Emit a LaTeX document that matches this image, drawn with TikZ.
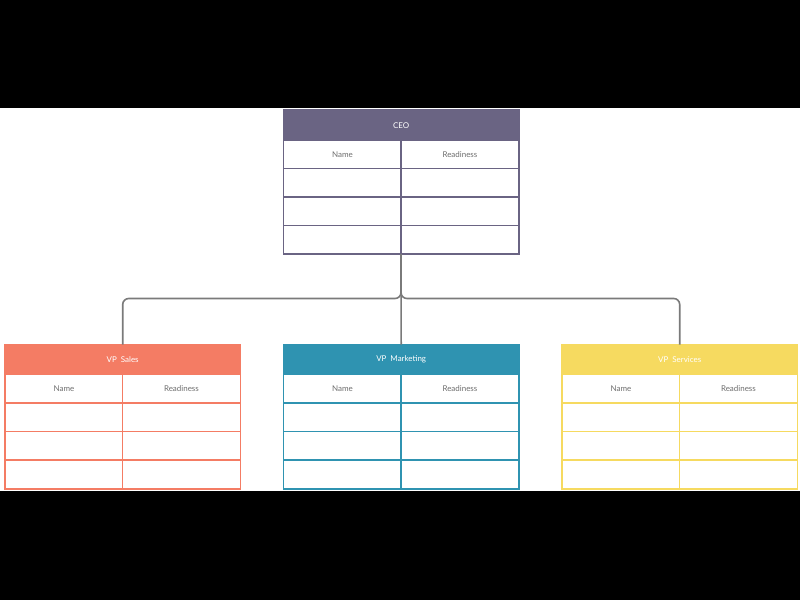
\documentclass[tikz,border=0pt]{standalone}
\usepackage{fontspec}
\setmainfont{Lato}
\definecolor{ceoC}{HTML}{6A6483}
\definecolor{salesC}{HTML}{F47C64}
\definecolor{mktC}{HTML}{2F93B1}
\definecolor{srvC}{HTML}{F6DA60}
\definecolor{txtC}{HTML}{6E6E6E}
\definecolor{connC}{HTML}{7A7A7A}
\tikzset{
  cellbox/.style={minimum width=117.5bp, minimum height=28.5bp, inner sep=0pt, anchor=north west, text=txtC, font=\fontsize{8}{9.5}\selectfont},
  headbox/.style={fill=#1, minimum width=235bp, minimum height=30bp, inner sep=0pt, anchor=north west, text=white, font=\fontsize{8}{9.5}\selectfont},
  gridline/.style={draw=#1, line width=1.8bp},
  conn/.style={draw=connC, line width=1.6bp, rounded corners=6bp}
}
\newcommand{\orgtbl}[5]{%
  \node[headbox=#4] (#1) at (#2,#3) {#5};
  \node[cellbox] (#1-n) at (#2,#3+30) {Name};
  \node[cellbox] (#1-r) at (#2+117.5,#3+30) {Readiness};
  \node[cellbox] (#1-a1) at (#2,#3+58.5) {};
  \node[cellbox] (#1-b1) at (#2+117.5,#3+58.5) {};
  \node[cellbox] (#1-a2) at (#2,#3+87) {};
  \node[cellbox] (#1-b2) at (#2+117.5,#3+87) {};
  \node[cellbox] (#1-a3) at (#2,#3+115.5) {};
  \node[cellbox] (#1-b3) at (#2+117.5,#3+115.5) {};
  \coordinate (#1-bot) at (#2+117.5,#3+144);
  \draw[gridline=#4] (#1.north west) rectangle (#1-b3.south east);
  \draw[gridline=#4] (#1-n.north west) -- (#1-r.north east);
  \draw[gridline=#4] (#1-a1.north west) -- (#1-b1.north east);
  \draw[gridline=#4] (#1-a2.north west) -- (#1-b2.north east);
  \draw[gridline=#4] (#1-a3.north west) -- (#1-b3.north east);
  \draw[gridline=#4] (#1-r.north west) -- (#1-b3.south west);
}
\begin{document}
\begin{tikzpicture}[x=1bp,y=-1bp]
\fill[black] (0,0) rectangle (800,600);
\fill[white] (0,108) rectangle (800,490.5);
\useasboundingbox (0,0) rectangle (800,600);
\orgtbl{ceo}{283.5}{110}{ceoC}{CEO}
\orgtbl{sales}{5}{344.5}{salesC}{VP\enspace Sales}
\orgtbl{mkt}{283.5}{344.5}{mktC}{VP\enspace Marketing}
\orgtbl{srv}{562}{344.5}{srvC}{VP\enspace Services}
\draw[conn] (ceo-bot) -- ++(0,44.5) -| (sales.north);
\draw[conn] (ceo-bot) -- ++(0,44.5) -| (srv.north);
\draw[conn] (ceo-bot) -- (mkt.north);
\end{tikzpicture}
\end{document}
